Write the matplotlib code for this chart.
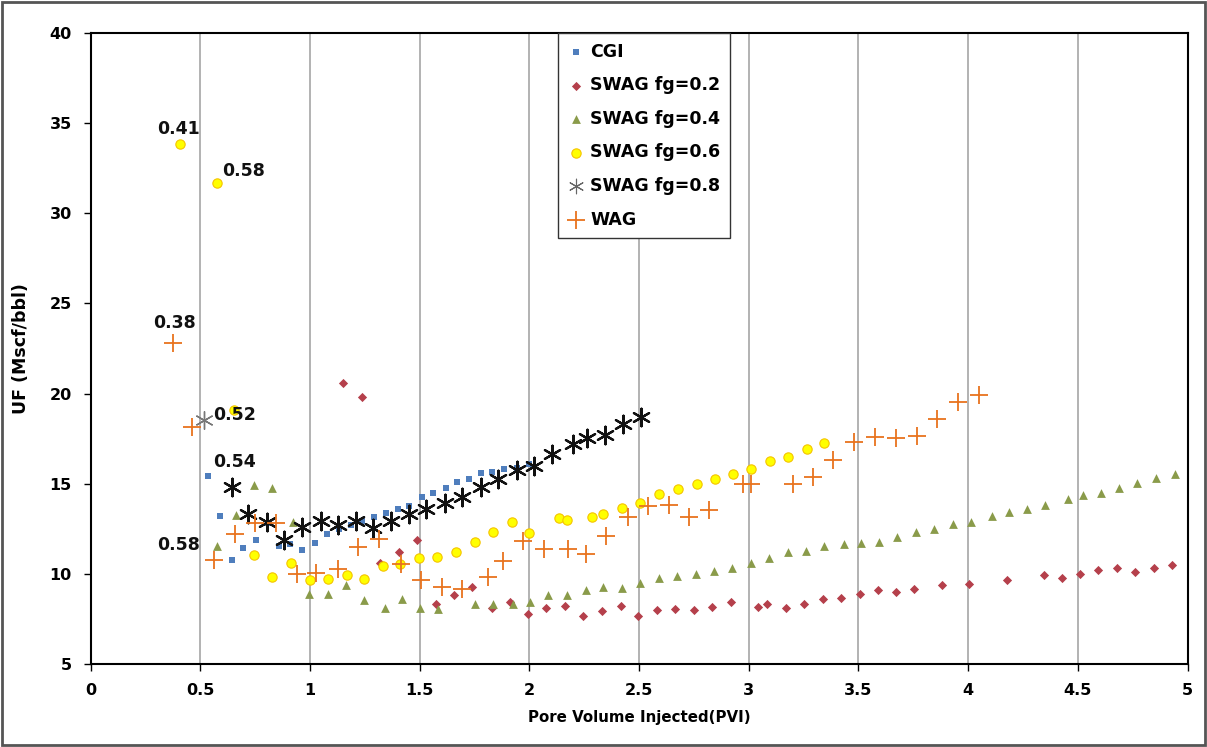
import matplotlib
matplotlib.use("Agg")
import matplotlib.pyplot as plt
from matplotlib.patches import Rectangle

# ---- data ----
cgi_x = [0.536, 0.590, 0.645, 0.695, 0.754, 0.809, 0.859, 0.909, 0.964, 1.023, 1.078, 1.133, 1.187, 1.237,
         1.292, 1.347, 1.402, 1.452, 1.511, 1.561, 1.620, 1.670, 1.725, 1.780, 1.830, 1.885, 1.944, 1.999]
cgi_y = [15.44, 13.22, 10.78, 11.44, 11.89, 12.83, 11.56, 11.67, 11.33, 11.72, 12.22, 12.50, 12.72, 12.94,
         13.17, 13.39, 13.61, 13.78, 14.28, 14.50, 14.78, 15.11, 15.28, 15.61, 15.67, 15.83, 15.89, 16.11]

swag02_x = [1.151, 1.237, 1.320, 1.406, 1.488, 1.575, 1.657, 1.739, 1.830, 1.912, 1.994, 2.076, 2.163, 2.245,
            2.331, 2.418, 2.495, 2.582, 2.664, 2.751, 2.833, 2.919, 3.042, 3.083, 3.170, 3.252, 3.339, 3.421,
            3.507, 3.589, 3.671, 3.753, 3.881, 4.004, 4.177, 4.346, 4.428, 4.510, 4.592, 4.679, 4.761, 4.847, 4.929]
swag02_y = [20.56, 19.83, 10.61, 11.22, 11.89, 8.33, 8.83, 9.28, 8.11, 8.44, 7.78, 8.11, 8.22, 7.67,
            7.94, 8.22, 7.67, 8.00, 8.06, 8.00, 8.17, 8.44, 8.17, 8.33, 8.11, 8.33, 8.61, 8.67,
            8.89, 9.11, 9.00, 9.17, 9.39, 9.44, 9.67, 9.94, 9.78, 10.00, 10.22, 10.33, 10.11, 10.33, 10.50]

swag04_x = [0.577, 0.663, 0.745, 0.827, 0.923, 0.996, 1.082, 1.165, 1.247, 1.342, 1.420, 1.502, 1.584, 1.753,
            1.835, 1.926, 2.003, 2.085, 2.172, 2.258, 2.336, 2.423, 2.505, 2.591, 2.673, 2.760, 2.842, 2.924,
            3.010, 3.093, 3.179, 3.261, 3.343, 3.434, 3.512, 3.594, 3.676, 3.763, 3.845, 3.931, 4.013, 4.109,
            4.186, 4.268, 4.350, 4.455, 4.524, 4.606, 4.688, 4.770, 4.856, 4.943]
swag04_y = [11.56, 13.28, 14.94, 14.78, 12.89, 8.89, 8.89, 9.39, 8.56, 8.11, 8.61, 8.11, 8.06, 8.33,
            8.33, 8.33, 8.44, 8.83, 8.83, 9.11, 9.28, 9.22, 9.50, 9.78, 9.89, 10.00, 10.17, 10.33,
            10.61, 10.89, 11.22, 11.28, 11.56, 11.67, 11.72, 11.78, 12.06, 12.33, 12.50, 12.78, 12.89, 13.22,
            13.44, 13.61, 13.83, 14.17, 14.39, 14.50, 14.78, 15.06, 15.33, 15.56]

swag06_x = [0.408, 0.577, 0.654, 0.745, 0.827, 0.914, 1.000, 1.082, 1.169, 1.247, 1.333, 1.411, 1.497, 1.579,
            1.666, 1.753, 1.835, 1.921, 1.999, 2.135, 2.172, 2.286, 2.336, 2.423, 2.505, 2.591, 2.678, 2.764,
            2.846, 2.928, 3.010, 3.097, 3.179, 3.266, 3.343]
swag06_y = [33.83, 31.67, 19.11, 11.06, 9.83, 10.61, 9.67, 9.72, 9.94, 9.72, 10.44, 10.56, 10.89, 10.94,
            11.22, 11.78, 12.33, 12.89, 12.28, 13.11, 13.00, 13.17, 13.33, 13.67, 13.94, 14.44, 14.72, 15.00,
            15.28, 15.56, 15.83, 16.28, 16.50, 16.94, 17.28]

swag08_x = [0.517, 0.645, 0.718, 0.804, 0.882, 0.964, 1.051, 1.128, 1.210, 1.288, 1.370, 1.452, 1.529, 1.616,
            1.693, 1.780, 1.857, 1.944, 2.021, 2.103, 2.199, 2.263, 2.345, 2.427, 2.509]
swag08_y = [18.56, 14.83, 13.33, 12.89, 11.89, 12.61, 12.94, 12.72, 12.94, 12.56, 12.94, 13.33, 13.61, 13.94,
            14.28, 14.83, 15.28, 15.78, 16.00, 16.67, 17.22, 17.56, 17.72, 18.33, 18.72]

wag_x = [0.376, 0.463, 0.563, 0.659, 0.750, 0.845, 0.941, 1.028, 1.128, 1.219, 1.315, 1.415, 1.506, 1.602,
         1.693, 1.812, 1.880, 1.971, 2.067, 2.176, 2.258, 2.350, 2.450, 2.541, 2.637, 2.728, 2.819, 2.974,
         3.010, 3.202, 3.293, 3.384, 3.480, 3.576, 3.671, 3.767, 3.858, 3.954, 4.050]
wag_y = [22.78, 18.17, 10.78, 12.22, 12.83, 12.83, 10.00, 10.06, 10.28, 11.50, 11.94, 10.56, 9.67, 9.28,
         9.17, 9.83, 10.72, 11.83, 11.39, 11.39, 11.11, 12.11, 13.17, 13.78, 13.83, 13.17, 13.56, 15.00,
         15.00, 15.00, 15.39, 16.33, 17.33, 17.61, 17.56, 17.67, 18.61, 19.56, 19.94]

series_labels = ["CGI", "SWAG fg=0.2", "SWAG fg=0.4", "SWAG fg=0.6", "SWAG fg=0.8", "WAG"]

# annotations: (text, x, y, dx_px, dy_px)
ann_text = ["0.41", "0.58", "0.38", "0.52", "0.54", "0.58"]
ann_x = [0.408, 0.577, 0.376, 0.517, 0.536, 0.577]
ann_y = [33.83, 31.67, 22.78, 18.56, 15.44, 11.56]
ann_dx = [-2, 26, 2, 31, 26, -39]
ann_dy = [15, 12, 20, 5, 14, 1]

x_ticks = [0, 0.5, 1, 1.5, 2, 2.5, 3, 3.5, 4, 4.5, 5]
x_ticklabels = ["0", "0.5", "1", "1.5", "2", "2.5", "3", "3.5", "4", "4.5", "5"]
y_ticks = [5, 10, 15, 20, 25, 30, 35, 40]

# ---- plot ----
plt.rcParams['font.family'] = ['DejaVu Sans']
fig = plt.figure(figsize=(12.07, 7.47), dpi=100)
ax = fig.add_axes([90.5/1207, 1-664/747, (1187.5-90.5)/1207, (664-33)/747])

ax.scatter(cgi_x, cgi_y, marker='s', s=22, color='#4F7EBD', linewidths=0, label=series_labels[0], zorder=3)
ax.scatter(swag02_x, swag02_y, marker='D', s=22, color='#B5404B', linewidths=0, label=series_labels[1], zorder=3)
ax.scatter(swag04_x, swag04_y, marker='^', s=40, color='#8A9B4A', linewidths=0, label=series_labels[2], zorder=3)
ax.scatter(swag06_x, swag06_y, marker='o', s=45, color='#FFFF00', edgecolors='#F5C400', linewidths=0.8,
           label=series_labels[3], zorder=3)
ax.scatter(swag08_x[1:], swag08_y[1:], marker=(6, 2, 0), s=160, color='#111111', linewidths=1.6, zorder=4)
ax.scatter(swag08_x[:1], swag08_y[:1], marker=(6, 2, 0), s=160, color='#777777', linewidths=1.0, zorder=4)
ax.scatter(wag_x, wag_y, marker='+', s=150, color='#E8731E', linewidths=1.3, label=series_labels[5], zorder=4)
# legend proxy for asterisk
ax.scatter([], [], marker=(6, 2, 0), s=110, color='#666666', linewidths=0.8, label=series_labels[4])

for t, x, y, dx, dy in zip(ann_text, ann_x, ann_y, ann_dx, ann_dy):
    ax.annotate(t, (x, y), xytext=(dx, dy), textcoords='offset pixels', ha='center', va='center',
                fontsize=12.5, fontweight='bold', color='#111111', zorder=5)

ax.set_xlim(0, 5)
ax.set_ylim(5, 40)
ax.set_xticks(x_ticks)
ax.set_xticklabels(x_ticklabels)
ax.set_yticks(y_ticks)
ax.xaxis.grid(True, color='#A6A6A6', linewidth=1.2)
ax.yaxis.grid(False)
ax.set_axisbelow(True)
for s in ax.spines.values():
    s.set_color('black')
    s.set_linewidth(1.5)
ax.tick_params(axis='both', direction='out', length=5, width=1, labelsize=11.5, pad=8.5)
for lab in ax.get_xticklabels() + ax.get_yticklabels():
    lab.set_fontweight('bold')
ax.set_xlabel("Pore Volume Injected(PVI)", fontsize=10.8, fontweight='bold', labelpad=9)
ax.set_ylabel("UF (Mscf/bbl)", fontsize=12.5, fontweight='bold', labelpad=14)

handles, labels = ax.get_legend_handles_labels()
order = [labels.index(l) for l in series_labels]
leg = ax.legend([handles[i] for i in order], [labels[i] for i in order],
                loc='upper left', bbox_to_anchor=((558-90.5)/1097, 1.0), borderaxespad=0,
                frameon=True, fancybox=False,
                edgecolor='#333333', framealpha=1, borderpad=0.55, labelspacing=0.9, handletextpad=0.3,
                handlelength=1.0, prop={'weight': 'bold', 'size': 12.5})
leg.get_frame().set_linewidth(1.0)

fig.patches.append(Rectangle((2/1207, 2/747), 1-4/1207, 1-4/747, transform=fig.transFigure,
                             fill=False, edgecolor='#555555', linewidth=2.0))

fig.savefig("out.png", dpi=100)
